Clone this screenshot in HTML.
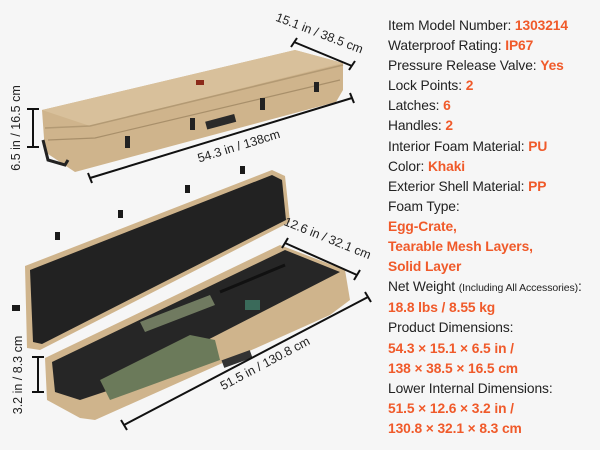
<!DOCTYPE html>
<html><head><meta charset="utf-8"><style>
html,body{margin:0;padding:0}
body{width:600px;height:450px;background:#f6f6f6;position:relative;overflow:hidden;font-family:"Liberation Sans",sans-serif}
.t{position:absolute;left:388px;top:16px;font-size:13.8px;line-height:20.1px;color:#222;letter-spacing:-0.1px}
.t b{color:#f05a2a}
.t small{font-size:10.5px}
svg{position:absolute;left:0;top:0}
</style></head><body>
<svg width="385" height="450" viewBox="0 0 385 450" font-family="Liberation Sans, sans-serif" font-size="12.5" fill="#222">
<!-- closed case -->
<polygon points="42,110 295,50 343,63 343,90 336,102 75,172 45,152" fill="#cfb48c"/>
<polygon points="42,110 295,50 343,63 90,126" fill="#d8c09b"/>
<polyline points="45,128 90,126 343,65" fill="none" stroke="#b39a74" stroke-width="1.5"/>
<polyline points="48,140 95,138 340,80" fill="none" stroke="#a88f6a" stroke-width="1.2"/>
<rect x="196" y="80" width="8" height="5" fill="#8b2a1a"/>
<rect x="206" y="118" width="30" height="8" fill="#2a2a2a" transform="rotate(-15 220 123)"/>
<rect x="125" y="136" width="5" height="12" fill="#222"/>
<rect x="190" y="118" width="5" height="12" fill="#222"/>
<rect x="260" y="98" width="5" height="12" fill="#222"/>
<rect x="314" y="82" width="5" height="10" fill="#222"/>
<path d="M43,140 L48,160 L65,165 L68,160" fill="none" stroke="#222" stroke-width="3"/>
<!-- open case lid -->
<polygon points="25,266 272,170 285,176 290,222 40,350 27,348" fill="#cfb48c"/>
<polygon points="30,270 272,175 282,180 286,220 42,344 33,342" fill="#222"/>
<g fill="#1a1a1a"><rect x="55" y="232" width="5" height="8"/><rect x="118" y="210" width="5" height="8"/><rect x="185" y="185" width="5" height="8"/><rect x="240" y="166" width="5" height="8"/><rect x="12" y="305" width="8" height="6"/></g>
<!-- base -->
<polygon points="45,358 280,245 345,270 350,300 330,315 95,420 80,418 47,400" fill="#cfb48c"/>
<polygon points="52,362 285,250 340,272 110,390 80,400 55,392" fill="#262626"/>
<polygon points="100,380 190,335 215,340 220,360 110,400" fill="#6b7a5a"/>
<polygon points="140,322 210,295 215,305 145,332" fill="#707a60"/>
<line x1="220" y1="292" x2="285" y2="265" stroke="#111" stroke-width="3"/>
<rect x="245" y="300" width="15" height="10" fill="#3a6a5a"/>
<rect x="222" y="355" width="30" height="8" fill="#333" transform="rotate(-20 237 359)"/>
<!-- dimension lines -->
<g stroke="#111" stroke-width="2" fill="none">
<line x1="294" y1="42" x2="352" y2="66"/><line x1="291" y1="47" x2="297" y2="38"/><line x1="349" y1="70" x2="355" y2="61"/>
<line x1="90" y1="178" x2="352" y2="98"/><line x1="88" y1="173" x2="92" y2="183"/><line x1="350" y1="93" x2="354" y2="103"/>
<line x1="33" y1="109" x2="33" y2="147"/><line x1="27" y1="109" x2="39" y2="109"/><line x1="27" y1="147" x2="39" y2="147"/>
<line x1="285" y1="243" x2="357" y2="275"/><line x1="282" y1="248" x2="288" y2="238"/><line x1="354" y1="280" x2="360" y2="270"/>
<line x1="124" y1="425" x2="368" y2="297"/><line x1="121" y1="420" x2="127" y2="430"/><line x1="365" y1="292" x2="371" y2="302"/>
<line x1="38" y1="357" x2="38" y2="392"/><line x1="32" y1="357" x2="44" y2="357"/><line x1="32" y1="392" x2="44" y2="392"/>
</g>
<text transform="translate(318,37) rotate(21)" text-anchor="middle">15.1 in / 38.5 cm</text>
<text transform="translate(240,150) rotate(-17)" text-anchor="middle">54.3 in / 138cm</text>
<text transform="translate(20,128) rotate(-90)" text-anchor="middle">6.5 in / 16.5 cm</text>
<text transform="translate(326,242) rotate(22)" text-anchor="middle">12.6 in / 32.1 cm</text>
<text transform="translate(267,367) rotate(-28)" text-anchor="middle">51.5 in / 130.8 cm</text>
<text transform="translate(22,375) rotate(-90)" text-anchor="middle">3.2 in / 8.3 cm</text>
</svg>
<div class="t">
Item Model Number: <b>1303214</b><br>
Waterproof Rating: <b>IP67</b><br>
Pressure Release Valve: <b>Yes</b><br>
Lock Points: <b>2</b><br>
Latches: <b>6</b><br>
Handles: <b>2</b><br>
Interior Foam Material: <b>PU</b><br>
Color: <b>Khaki</b><br>
Exterior Shell Material: <b>PP</b><br>
Foam Type:<br>
<b>Egg-Crate,</b><br>
<b>Tearable Mesh Layers,</b><br>
<b>Solid Layer</b><br>
Net Weight <small>(Including All Accessories)</small>:<br>
<b>18.8 lbs / 8.55 kg</b><br>
Product Dimensions:<br>
<b>54.3 × 15.1 × 6.5 in /</b><br>
<b>138 × 38.5 × 16.5 cm</b><br>
Lower Internal Dimensions:<br>
<b>51.5 × 12.6 × 3.2 in /</b><br>
<b>130.8 × 32.1 × 8.3 cm</b>
</div>
</body></html>
